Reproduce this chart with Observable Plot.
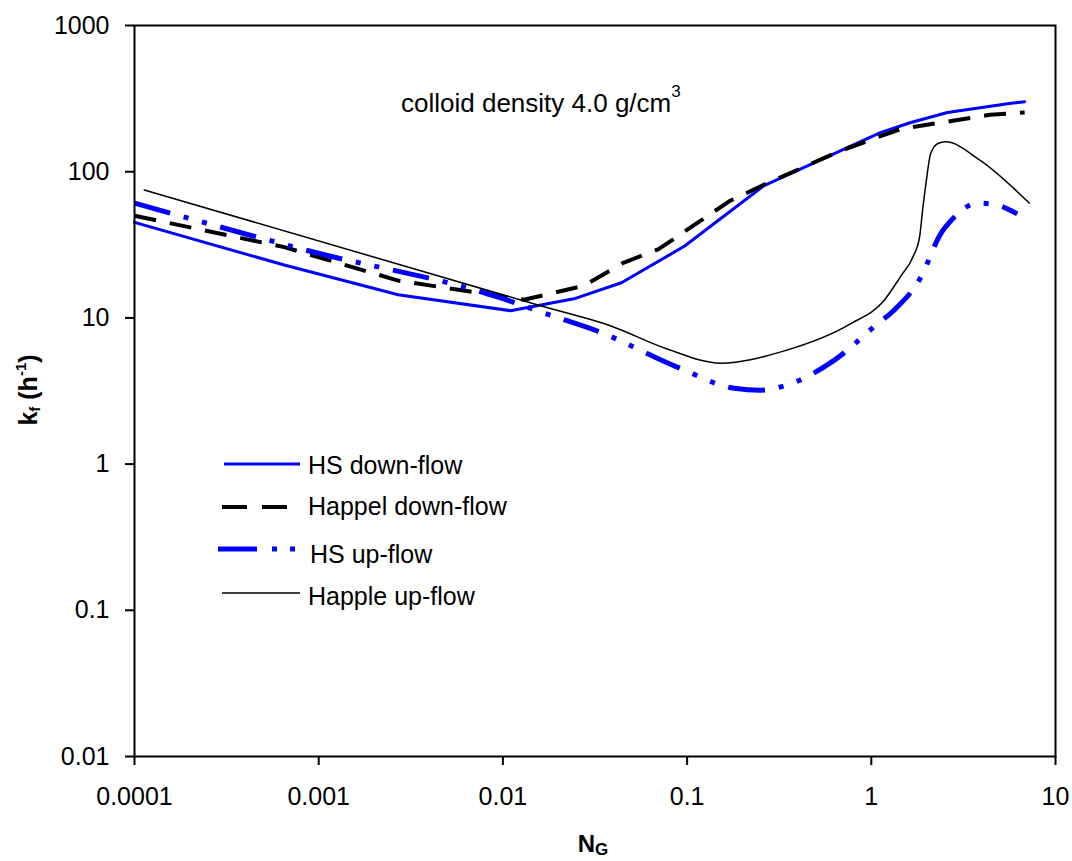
<!DOCTYPE html>
<html>
<head>
<meta charset="utf-8">
<script src="https://cdn.jsdelivr.net/npm/d3@7"></script>
<script src="https://cdn.jsdelivr.net/npm/@observablehq/plot@0.6"></script>
<style>
  html, body { margin: 0; padding: 0; background: #fff; }
  #chart { width: 1072px; height: 861px; }
</style>
</head>
<body>
<div id="chart"></div>
<script>
// ---- data ----
const hsDownX = [0.0001, 0.00065, 0.0027, 0.011, 0.0243, 0.044, 0.097, 0.26, 1.12, 1.64, 2.59, 5.5, 6.8];
const hsDownY = [45, 23, 14.4, 11.2, 13.5, 17.4, 31, 80, 185, 217, 254, 292, 301];

const happelDownX = [0.0001, 0.00065, 0.0027, 0.013, 0.0275, 0.045, 0.07, 0.17, 0.27, 0.68, 1.46, 2.77, 4.4, 6.8];
const happelDownY = [50, 30.5, 18, 13.3, 16.6, 23.8, 29.5, 63, 83, 139, 197, 223, 245, 254];

const hsUpX = [0.0001, 0.00088, 0.0101, 0.0167, 0.0328, 0.0925, 0.18, 0.25, 0.33, 0.625, 1.08, 1.32, 1.85, 2.38, 2.77, 3.78, 4.84, 6.2];
const hsUpY = [61, 28.8, 13.5, 10.8, 8.1, 4.5, 3.3, 3.2, 3.4, 5.1, 9.1, 11.2, 18.8, 37.6, 47.6, 61, 59, 51.5];

const happleUpX = [0.000113, 0.016, 0.0386, 0.0787, 0.152, 0.33, 0.77, 1.17, 1.45, 1.68, 1.83, 1.90, 1.99, 2.10, 2.30, 2.53, 3.92, 7.2];
const happleUpY = [75, 12.1, 8.8, 6.1, 4.9, 5.9, 9.1, 13.1, 19.4, 26, 36, 55, 87, 133, 156, 160, 119, 61];

const xTicks = [0.0001, 0.001, 0.01, 0.1, 1, 10];
const xTickLabels = ["0.0001", "0.001", "0.01", "0.1", "1", "10"];
const yTicks = [0.01, 0.1, 1, 10, 100, 1000];
const yTickLabels = ["0.01", "0.1", "1", "10", "100", "1000"];

const seriesNames = ["HS down-flow", "Happel down-flow", "HS up-flow", "Happle up-flow"];

const zip = (xs, ys) => xs.map((x, i) => ({x, y: ys[i]}));
const hsDown = zip(hsDownX, hsDownY);
const happelDown = zip(happelDownX, happelDownY);
const hsUp = zip(hsUpX, hsUpY);
const happleUp = zip(happleUpX, happleUpY);

// ---- styles ----
const BLUE = "#0000ff";
const styles = [
  {stroke: BLUE, strokeWidth: 3, dash: null},
  {stroke: "#000", strokeWidth: 4, dash: "22,14"},
  {stroke: BLUE, strokeWidth: 5, dash: "37,14,5,14,5,14"},
  {stroke: "#000", strokeWidth: 1.5, dash: null}
];

const FONT = "'Liberation Sans', Arial, Helvetica, sans-serif";

const plot = Plot.plot({
  width: 1072,
  height: 861,
  marginLeft: 134,
  marginRight: 17,
  marginTop: 25,
  marginBottom: 105,
  style: {fontFamily: FONT, fontSize: "25px", color: "#000", background: "#fff"},
  x: {type: "log", domain: [1e-4, 10], label: null},
  y: {type: "log", domain: [0.01, 1000], label: null},
  marks: [
    Plot.line(hsDown, {x: "x", y: "y", stroke: styles[0].stroke, strokeWidth: styles[0].strokeWidth}),
    Plot.line(happelDown, {x: "x", y: "y", stroke: styles[1].stroke, strokeWidth: styles[1].strokeWidth, strokeDasharray: styles[1].dash, strokeLinecap: "butt"}),
    Plot.line(hsUp, {x: "x", y: "y", stroke: styles[2].stroke, strokeWidth: styles[2].strokeWidth, strokeDasharray: styles[2].dash, curve: "monotone-x", strokeLinecap: "butt"}),
    Plot.line(happleUp, {x: "x", y: "y", stroke: styles[3].stroke, strokeWidth: styles[3].strokeWidth, curve: "monotone-x"}),
    Plot.frame({stroke: "#000", strokeWidth: 2}),
    Plot.axisX({ticks: xTicks, tickFormat: (d) => xTickLabels[xTicks.indexOf(d)], tickSize: 9, tickPadding: 22, strokeWidth: 2, fontSize: 25, label: null}),
    Plot.axisY({ticks: yTicks, tickFormat: (d) => yTickLabels[yTicks.indexOf(d)], tickSize: 9, tickPadding: 16, strokeWidth: 2, fontSize: 25, label: null})
  ]
});

document.getElementById("chart").appendChild(plot);

// ---- annotations, axis titles and legend ----
const svg = d3.select(plot);
svg.selectAll("text").attr("fill", "#000");

// x axis title N_G
const xt = svg.append("text")
  .attr("x", 593).attr("y", 852)
  .attr("text-anchor", "middle")
  .attr("font-family", FONT).attr("font-weight", "bold").attr("font-size", 24).attr("fill", "#000");
xt.append("tspan").text("N");
xt.append("tspan").attr("font-size", 17).attr("dy", 3).text("G");

// y axis title k_f (h^-1)
const yt = svg.append("text")
  .attr("transform", "translate(37,390) rotate(-90)")
  .attr("text-anchor", "middle")
  .attr("font-family", FONT).attr("font-weight", "bold").attr("font-size", 25).attr("fill", "#000");
yt.append("tspan").text("k");
yt.append("tspan").attr("font-size", 15).attr("dy", 3).text("f");
yt.append("tspan").attr("dy", -3).text(" (h");
yt.append("tspan").attr("font-size", 15).attr("dy", -11).text("-1");
yt.append("tspan").attr("dy", 11).text(")");

// annotation
const an = svg.append("text")
  .attr("x", 401).attr("y", 112)
  .attr("text-anchor", "start")
  .attr("font-family", FONT).attr("font-size", 26).attr("fill", "#000");
an.append("tspan").text("colloid density 4.0 g/cm");
an.append("tspan").attr("font-size", 17).attr("dy", -15).text("3");

// legend
const legendRows = [
  {x1: 224, x2: 300, y: 464, tx: 308, ty: 474},
  {x1: 222, x2: 300, y: 507, tx: 308, ty: 515},
  {x1: 218, x2: 300, y: 549, tx: 310, ty: 563},
  {x1: 222, x2: 300, y: 593, tx: 308, ty: 605}
];
seriesNames.forEach((name, i) => {
  const r = legendRows[i], s = styles[i];
  const ln = svg.append("line")
    .attr("x1", r.x1).attr("x2", r.x2).attr("y1", r.y).attr("y2", r.y)
    .attr("stroke", s.stroke).attr("stroke-width", s.strokeWidth);
  if (i === 1) ln.attr("stroke-dasharray", "25,15");
  if (i === 2) ln.attr("stroke-dasharray", "39,15,5,13,5,30");
  svg.append("text").attr("x", r.tx).attr("y", r.ty)
    .attr("text-anchor", "start")
    .attr("font-family", FONT).attr("font-size", 25).attr("fill", "#000")
    .text(name);
});
</script>
</body>
</html>
